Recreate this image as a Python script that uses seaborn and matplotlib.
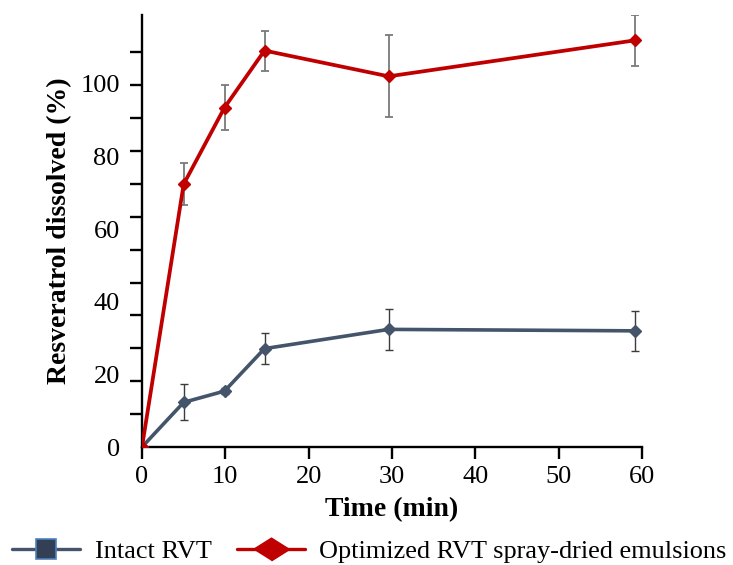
import numpy as np
import pandas as pd
import matplotlib
matplotlib.use("Agg")
import matplotlib.pyplot as plt
from matplotlib.lines import Line2D
import seaborn as sns

# ---- data ----
time_min = [0, 5, 9.9, 14.7, 29.6, 59.1]
intact_mean = [0, 12.3, 15.4, 27.1, 32.4, 32.0]
intact_err = [0, 5.0, 0.8, 4.2, 5.7, 5.6]
optim_mean = [0, 72.4, 93.5, 109.2, 102.1, 112.0]
optim_err = [0, 5.8, 6.1, 5.5, 11.3, 7.0]
series_names = ["Intact RVT", "Optimized RVT spray-dried emulsions"]
x_ticks = [0, 10, 20, 30, 40, 50, 60]
y_ticks = [0, 20, 40, 60, 80, 100]

sns.set_theme(style="ticks")
plt.rcParams["font.family"] = ["Liberation Serif", "DejaVu Serif"]
plt.rcParams["text.color"] = "black"
plt.rcParams["axes.labelcolor"] = "black"
plt.rcParams["xtick.color"] = "black"
plt.rcParams["ytick.color"] = "black"

df = pd.DataFrame({
    "time": time_min * 2,
    "value": intact_mean + optim_mean,
    "err": intact_err + optim_err,
    "series": [series_names[0]] * len(time_min) + [series_names[1]] * len(time_min),
})

blue = "#44546a"
red = "#c00000"

fig = plt.figure(figsize=(7.33, 5.65), dpi=100)
ax = fig.add_axes([142 / 733, (565 - 447) / 565, 500 / 733, 432 / 565])

d_int = df[df.series == series_names[0]]
d_opt = df[df.series == series_names[1]]

ax.errorbar(d_int.time, d_int.value, yerr=d_int.err, fmt="none",
            ecolor="#3c3c3c", elinewidth=1.0, capsize=2.8, capthick=1.0, zorder=2)
ax.errorbar(d_opt.time, d_opt.value, yerr=d_opt.err, fmt="none",
            ecolor="#7a7a7a", elinewidth=1.3, capsize=2.8, capthick=1.3, zorder=2)

sns.lineplot(data=d_int, x="time", y="value", color=blue, lw=2.6,
             marker="D", markersize=6.2, markeredgecolor=blue, markeredgewidth=1,
             legend=False, ax=ax, zorder=3)
sns.lineplot(data=d_opt, x="time", y="value", color=red, lw=2.7,
             marker="D", markersize=6.2, markeredgecolor=red, markeredgewidth=1,
             legend=False, ax=ax, zorder=4)

ax.set_xlim(0, 60)
ax.set_ylim(0, 119)
ax.set_xticks(x_ticks)
ax.set_yticks(y_ticks)
ax.set_yticks(np.arange(13) * 9.06, minor=True)
ax.tick_params(axis="x", direction="out", length=8.5, width=1.7, pad=5,
               labelsize=19)
ax.tick_params(axis="y", which="major", length=0, pad=16, labelsize=19)
ax.tick_params(axis="y", which="minor", direction="out", length=8.5, width=1.7)
for s in ["left", "bottom"]:
    ax.spines[s].set_linewidth(1.7)
    ax.spines[s].set_color("black")
for s in ["top", "right"]:
    ax.spines[s].set_visible(False)

ax.set_xlabel("Time (min)", fontsize=20, fontweight="bold", labelpad=7)
ax.set_ylabel("Resveratrol dissolved (%)", fontsize=20, fontweight="bold", labelpad=6)

diamond = [(-1, 0), (0, 0.63), (1, 0), (0, -0.63)]
handles = [
    Line2D([0], [0], color=blue, lw=2.4, marker="s", markersize=15,
           markerfacecolor="#323f54", markeredgecolor="#4f81bd", markeredgewidth=1.2),
    Line2D([0], [0], color=red, lw=2.4, marker=diamond, markersize=26,
           markerfacecolor=red, markeredgecolor=red),
]
fig.legend(handles, series_names, loc="center", bbox_to_anchor=(0.504, 0.0235),
           ncol=2, frameon=False, fontsize=18.9, handlelength=2.6, handletextpad=0.55,
           columnspacing=0.95, borderpad=0, borderaxespad=0)

fig.savefig("out.png", dpi=100, facecolor="white")
